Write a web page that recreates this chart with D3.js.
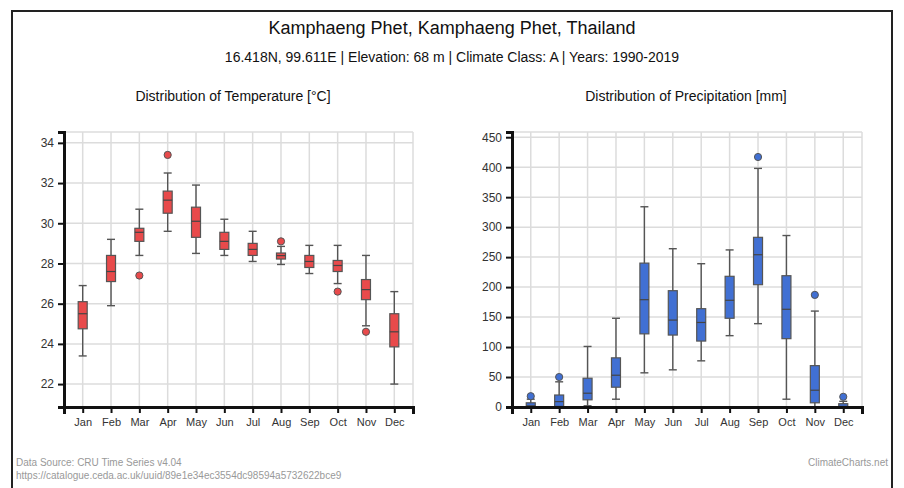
<!DOCTYPE html>
<html>
<head>
<meta charset="utf-8">
<script src="https://cdn.jsdelivr.net/npm/d3@7"></script>
<style>
  html, body { margin: 0; padding: 0; background: #fff; }
  svg { display: block; font-family: "Liberation Sans", Arial, sans-serif; }
</style>
</head>
<body>
<svg id="chart" width="904" height="488"></svg>
<script>
// Monthly climate distributions, Kamphaeng Phet 1990-2019
const months = ["Jan", "Feb", "Mar", "Apr", "May", "Jun", "Jul", "Aug", "Sep", "Oct", "Nov", "Dec"];

// Temperature [°C]: whisker ends, quartiles, median, outliers
const tempLow    = [23.4, 25.9, 28.4, 29.6, 28.5, 28.4, 28.1, 27.95, 27.5, 27.0, 24.9, 22.0];
const tempQ1     = [24.75, 27.1, 29.1, 30.5, 29.3, 28.7, 28.4, 28.22, 27.8, 27.6, 26.2, 23.85];
const tempMedian = [25.5, 27.6, 29.55, 31.15, 30.1, 29.1, 28.7, 28.39, 28.1, 27.9, 26.7, 24.6];
const tempQ3     = [26.1, 28.4, 29.75, 31.6, 30.8, 29.55, 29.0, 28.52, 28.4, 28.15, 27.2, 25.5];
const tempHigh   = [26.9, 29.2, 30.7, 32.5, 31.9, 30.2, 29.6, 28.85, 28.9, 28.9, 28.4, 26.6];
const tempOutliers = [[], [], [27.4], [33.4], [], [], [], [29.1], [], [26.6], [24.6], []];

// Precipitation [mm]
const precLow    = [0, 0, 2, 13, 57, 62, 77, 119, 139, 13, 0, 0];
const precQ1     = [0, 1, 12, 33, 122, 120, 110, 148, 204, 114, 7, 0];
const precMedian = [2, 9, 23, 53, 179, 145, 141, 178, 254, 163, 28, 1];
const precQ3     = [7, 20, 48, 82, 240, 194, 164, 218, 283, 219, 69, 5.5];
const precHigh   = [13, 42, 101, 148, 334, 264, 239, 262, 398, 286, 160, 9.5];
const precOutliers = [[18], [50], [], [], [], [], [], [], [417], [], [187], [17]];

const yTicksTemp = [22, 24, 26, 28, 30, 32, 34];
const yTicksPrec = [0, 50, 100, 150, 200, 250, 300, 350, 400, 450];

const svg = d3.select("#chart");

// outer frame
svg.append("rect")
  .attr("x", 12).attr("y", 11)
  .attr("width", 880).attr("height", 490)
  .attr("fill", "none").attr("stroke", "#222").attr("stroke-width", 2);

svg.append("text")
  .attr("x", 452).attr("y", 34)
  .attr("text-anchor", "middle")
  .attr("font-size", 18).attr("fill", "#111")
  .text("Kamphaeng Phet, Kamphaeng Phet, Thailand");

svg.append("text")
  .attr("x", 452).attr("y", 62)
  .attr("text-anchor", "middle")
  .attr("font-size", 14).attr("fill", "#111")
  .text("16.418N, 99.611E | Elevation: 68 m | Climate Class: A | Years: 1990-2019");

function drawPanel(opts) {
  const { left, right, top, bottom, title, titleX, low, q1, med, q3, high, outliers, ticks, clampZero, fill } = opts;
  const g = svg.append("g");

  const all = low.concat(high, outliers.flat());
  const mn = d3.min(all), mx = d3.max(all);
  const pad = (mx - mn) * 0.1;
  let lo = mn - pad;
  if (clampZero) lo = Math.max(0, lo);
  const y = d3.scaleLinear().domain([lo, mx + pad]).range([bottom, top]);
  const x = d3.scalePoint().domain(months).range([left, right]).padding(0.66);

  g.append("text")
    .attr("x", titleX).attr("y", 101)
    .attr("text-anchor", "middle")
    .attr("font-size", 14).attr("fill", "#111")
    .text(title);

  // grid
  const grid = g.append("g").attr("stroke", "#dcdcdc").attr("stroke-width", 1.5).attr("fill", "none");
  grid.selectAll("line.h").data(ticks).join("line")
    .attr("x1", left).attr("x2", right)
    .attr("y1", d => y(d)).attr("y2", d => y(d));
  grid.selectAll("line.v").data(months).join("line")
    .attr("x1", d => x(d)).attr("x2", d => x(d))
    .attr("y1", top).attr("y2", bottom);
  grid.append("line").attr("x1", left).attr("x2", right).attr("y1", top).attr("y2", top);
  grid.append("line").attr("x1", right).attr("x2", right).attr("y1", top).attr("y2", bottom);

  // boxes
  const bw = 9, cw = 8;
  const boxes = g.append("g");
  months.forEach((m, i) => {
    const cx = x(m);
    const b = boxes.append("g");
    b.append("line")
      .attr("x1", cx).attr("x2", cx)
      .attr("y1", y(high[i])).attr("y2", y(low[i]))
      .attr("stroke", "#555").attr("stroke-width", 1.4);
    [low[i], high[i]].forEach(v => {
      b.append("line")
        .attr("x1", cx - cw / 2).attr("x2", cx + cw / 2)
        .attr("y1", y(v)).attr("y2", y(v))
        .attr("stroke", "#555").attr("stroke-width", 1.4);
    });
    b.append("rect")
      .attr("x", cx - bw / 2).attr("width", bw)
      .attr("y", y(q3[i])).attr("height", Math.max(0, y(q1[i]) - y(q3[i])))
      .attr("fill", fill).attr("stroke", "#555").attr("stroke-width", 1.2);
    b.append("line")
      .attr("x1", cx - bw / 2).attr("x2", cx + bw / 2)
      .attr("y1", y(med[i])).attr("y2", y(med[i]))
      .attr("stroke", "#444").attr("stroke-width", 1.2);
    outliers[i].forEach(v => {
      b.append("circle")
        .attr("cx", cx).attr("cy", y(v)).attr("r", 3.6)
        .attr("fill", fill).attr("stroke", "#555").attr("stroke-width", 1);
    });
  });

  // axes
  const yAxis = g.append("g")
    .attr("transform", `translate(${left},0)`)
    .call(d3.axisLeft(y).tickValues(ticks).tickSize(6).tickSizeOuter(6).tickPadding(4));
  yAxis.select(".domain").attr("stroke", "#111").attr("stroke-width", 3);
  yAxis.selectAll(".tick line").attr("stroke", "#111").attr("stroke-width", 2);
  yAxis.selectAll(".tick text").attr("font-size", 12).attr("fill", "#333")
    .attr("font-family", "Liberation Sans, Arial, sans-serif");

  const xAxis = g.append("g")
    .attr("transform", `translate(0,${bottom})`)
    .call(d3.axisBottom(x).tickSize(6).tickSizeOuter(7).tickPadding(5));
  xAxis.select(".domain").attr("stroke", "#111").attr("stroke-width", 3);
  xAxis.selectAll(".tick line").attr("stroke", "#111").attr("stroke-width", 2);
  xAxis.selectAll(".tick text").attr("font-size", 11).attr("fill", "#333")
    .attr("font-family", "Liberation Sans, Arial, sans-serif");
}

drawPanel({
  left: 64, right: 413, top: 132, bottom: 407,
  title: "Distribution of Temperature [°C]", titleX: 233,
  low: tempLow, q1: tempQ1, med: tempMedian, q3: tempQ3, high: tempHigh,
  outliers: tempOutliers, ticks: yTicksTemp, clampZero: false, fill: "#e84a4b"
});

drawPanel({
  left: 512, right: 862, top: 132, bottom: 407,
  title: "Distribution of Precipitation [mm]", titleX: 686,
  low: precLow, q1: precQ1, med: precMedian, q3: precQ3, high: precHigh,
  outliers: precOutliers, ticks: yTicksPrec, clampZero: true, fill: "#4170d3"
});

// footer
svg.append("text")
  .attr("x", 16).attr("y", 466)
  .attr("font-size", 10).attr("fill", "#999")
  .text("Data Source: CRU Time Series v4.04");
svg.append("text")
  .attr("x", 16).attr("y", 479)
  .attr("font-size", 10).attr("fill", "#999")
  .text("https://catalogue.ceda.ac.uk/uuid/89e1e34ec3554dc98594a5732622bce9");
svg.append("text")
  .attr("x", 888).attr("y", 466)
  .attr("text-anchor", "end")
  .attr("font-size", 10).attr("fill", "#999")
  .text("ClimateCharts.net");
</script>
</body>
</html>
